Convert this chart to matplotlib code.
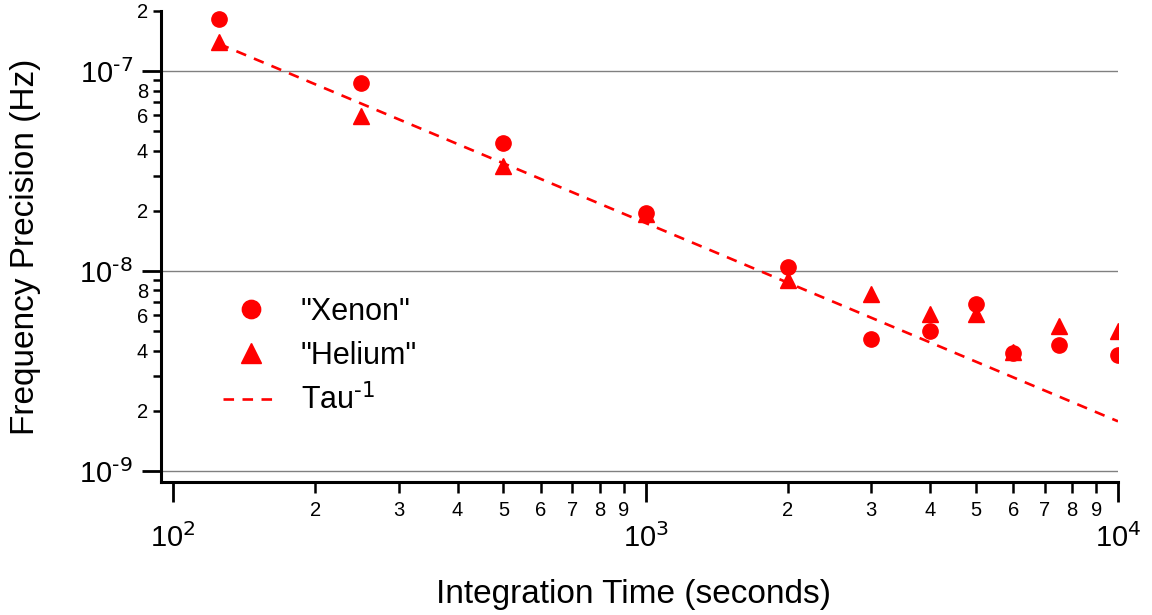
import numpy as np
import matplotlib
matplotlib.use('Agg')
import matplotlib.pyplot as plt
from matplotlib.ticker import FixedLocator, FuncFormatter

# values
tau = [125, 250, 500, 1000, 2000, 3000, 4000, 5000, 6000, 7500, 10000]
xenon = [1.82e-7, 8.7e-8, 4.37e-8, 1.95e-8, 1.05e-8, 4.57e-9, 5.0e-9, 6.84e-9, 3.89e-9, 4.27e-9, 3.80e-9]
helium = [1.40e-7, 5.96e-8, 3.35e-8, 1.93e-8, 9.0e-9, 7.7e-9, 6.06e-9, 6.1e-9, 3.94e-9, 5.31e-9, 5.0e-9]
fit_tau = [125, 10000]
fit_vals = [1.37e-7, 1.77e-9]

x_decades = [1e2, 1e3, 1e4]
y_decades = [1e-9, 1e-8, 1e-7]
subs = [2, 3, 4, 5, 6, 7, 8, 9]
xlim = (94.3, 1.0001e4)
ylim = (8.8e-10, 2.005e-7)

plt.rcParams['font.family'] = ['Liberation Sans', 'DejaVu Sans']
plt.rcParams['mathtext.default'] = 'regular'

fig = plt.figure(figsize=(11.52, 6.15), dpi=100)
ax = fig.add_axes([0.1398, 0.2163, 0.8307, 0.7662])

ax.plot(tau, xenon, 'o', color='red', ms=11, ls='none', label='"Xenon"', zorder=3)
ax.plot(tau, helium, '^', color='red', ms=12, ls='none', label='"Helium"', zorder=3)
ax.plot(fit_tau, fit_vals, color='red', lw=1.9, dashes=(4, 3.2), label=r'Tau$^{\text{-1}}$', zorder=2)

ax.set_xscale('log')
ax.set_yscale('log')
ax.set_xlim(*xlim)
ax.set_ylim(*ylim)

for s in ['top', 'right']:
    ax.spines[s].set_visible(False)
for s in ['left', 'bottom']:
    ax.spines[s].set_linewidth(2.2)

def major_fmt(v, pos):
    return r'$10^{\text{%d}}$' % int(round(np.log10(v)))

def digit(v):
    return int(round(v / 10 ** np.floor(np.log10(v) + 1e-9)))

def minors(decades, lim):
    vals = [d * s for d in decades for s in subs]
    return [v for v in vals if lim[0] <= v <= lim[1]]

ax.xaxis.set_major_locator(FixedLocator(x_decades))
ax.yaxis.set_major_locator(FixedLocator(y_decades))
ax.xaxis.set_minor_locator(FixedLocator(minors(x_decades, xlim)))
ax.yaxis.set_minor_locator(FixedLocator(minors(y_decades, ylim)))
ax.xaxis.set_major_formatter(FuncFormatter(major_fmt))
ax.yaxis.set_major_formatter(FuncFormatter(major_fmt))
ax.xaxis.set_minor_formatter(FuncFormatter(lambda v, p: str(digit(v))))
ax.yaxis.set_minor_formatter(FuncFormatter(lambda v, p: str(digit(v)) if digit(v) in (2, 4, 6, 8) else ''))

ax.tick_params(axis='y', which='major', length=13.7, width=2, pad=6.5, labelsize=21)
ax.tick_params(axis='y', which='minor', length=5.8, width=1.8, pad=3.6, labelsize=14.5)
ax.tick_params(axis='x', which='major', length=14.4, width=2, pad=15, labelsize=21)
ax.tick_params(axis='x', which='minor', length=8, width=1.8, pad=6, labelsize=14.5)

ax.grid(axis='y', which='major', color='#808080', lw=1)
ax.set_axisbelow(True)

ax.legend(loc='upper left', bbox_to_anchor=(0.0648, 0.393), frameon=False, fontsize=22,
          handlelength=1.8, handletextpad=0.75, labelspacing=0.45, borderpad=0,
          borderaxespad=0, markerscale=1.2)

fig.text(0.0221, 0.598, 'Frequency Precision (Hz)', rotation=90, ha='center', va='center', fontsize=24)
fig.text(0.5495, 0.0195, 'Integration Time (seconds)', ha='center', va='baseline', fontsize=24)

fig.savefig('out.png', dpi=100)
